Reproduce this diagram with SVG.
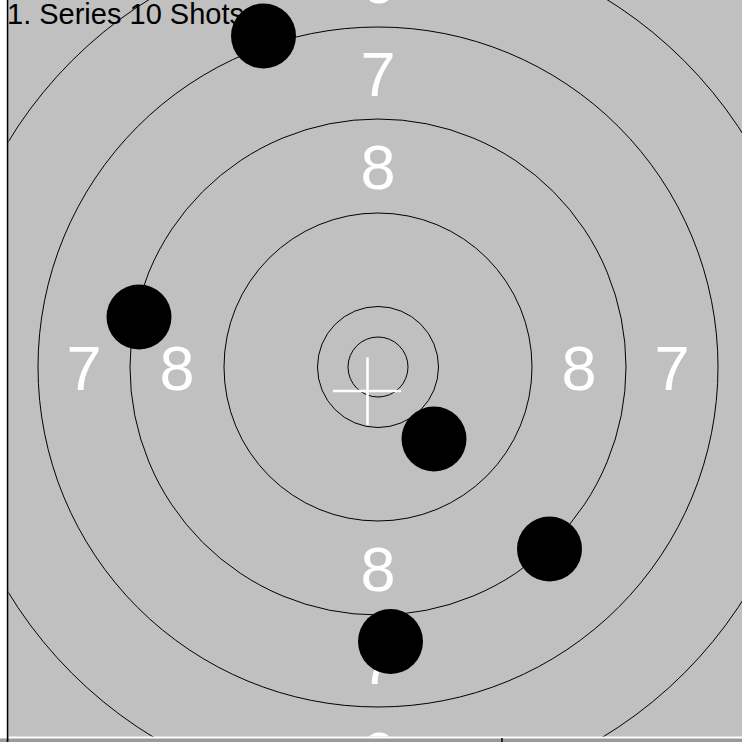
<svg xmlns="http://www.w3.org/2000/svg" width="742" height="742" viewBox="0 0 742 742">
  <defs>
    <clipPath id="area"><rect x="8.5" y="0" width="733.5" height="736.5"/></clipPath>
  </defs>
  <style>
    .ring{fill:none;stroke:#000;stroke-width:1}
    .num{font-family:"Liberation Sans",Arial,sans-serif;font-size:63px;fill:#fff;text-anchor:middle}
    .shot{fill:#000}
    .cross{stroke:#fff;stroke-width:2.6}
    .title{font-family:"Liberation Sans",Arial,sans-serif;font-size:29px;fill:#000}
  </style>
  <rect x="0" y="0" width="742" height="742" fill="#fff"/>
  <rect x="0" y="738.5" width="742" height="3.5" fill="#9a9a9a"/>
  <line x1="502" y1="738" x2="502" y2="742" stroke="#000" stroke-width="1.5"/>
  <rect x="8.5" y="0" width="733.5" height="736.5" fill="#c0c0c0"/>
  <line x1="7.6" y1="0" x2="7.6" y2="742" stroke="#000" stroke-width="1.6"/>
  <g clip-path="url(#area)">
    <g id="rings">
      <circle class="ring" cx="378" cy="367" r="30"/>
      <circle class="ring" cx="378" cy="367" r="60.5"/>
      <circle class="ring" cx="378" cy="367" r="154"/>
      <circle class="ring" cx="378" cy="367" r="248"/>
      <circle class="ring" cx="378" cy="367" r="340"/>
      <circle class="ring" cx="378" cy="367" r="433"/>
    </g>
    <g id="labels">
      <text class="num" x="378" y="3">6</text>
      <text class="num" x="378" y="95.5">7</text>
      <text class="num" x="378" y="188.5">8</text>
      <text class="num" x="378" y="590.5">8</text>
      <text class="num" x="378" y="683.5">7</text>
      <text class="num" x="378" y="776">6</text>
      <text class="num" x="84" y="390">7</text>
      <text class="num" x="177" y="390">8</text>
      <text class="num" x="579" y="390">8</text>
      <text class="num" x="672" y="390">7</text>
    </g>
    <g id="crosshair">
      <line class="cross" x1="333" y1="391" x2="401" y2="391"/>
      <line class="cross" x1="367.5" y1="357.5" x2="367.5" y2="425"/>
    </g>
    <text id="title" class="title" x="7" y="24">1. Series 10 Shots</text>
    <g id="shots">
      <circle id="shot1" class="shot" cx="263.5" cy="36" r="32.5"/>
      <circle id="shot2" class="shot" cx="139" cy="317" r="32.5"/>
      <circle id="shot3" class="shot" cx="434" cy="439" r="32.5"/>
      <circle id="shot4" class="shot" cx="549.5" cy="549" r="32.5"/>
      <circle id="shot5" class="shot" cx="390.5" cy="641.5" r="32.5"/>
    </g>
  </g>
</svg>
